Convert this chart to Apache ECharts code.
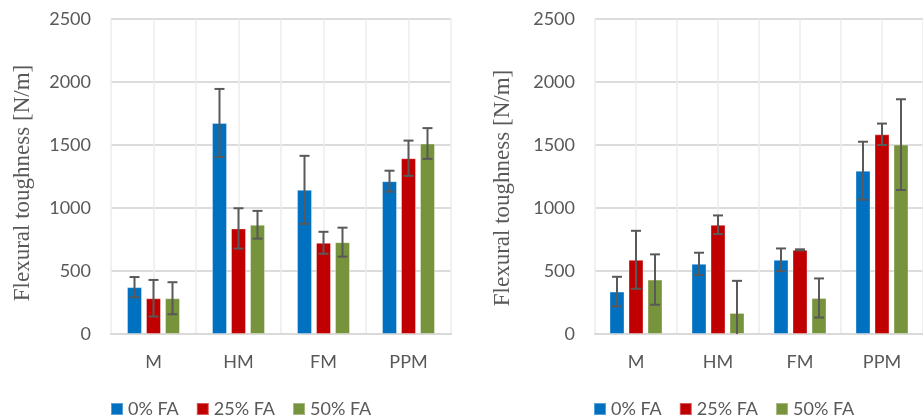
<!DOCTYPE html>
<html>
<head>
<meta charset="utf-8">
<script src="https://cdn.jsdelivr.net/npm/echarts@6/dist/echarts.min.js"></script>
<style>html,body{margin:0;padding:0;background:#fff}#c{width:923px;height:418px}</style>
</head>
<body>
<div id="c"></div>
<script>
const categories = ['M', 'HM', 'FM', 'PPM'];
const seriesNames = ['0% FA', '25% FA', '50% FA'];
const yTicks = [0, 500, 1000, 1500, 2000, 2500];
const axisTitle = 'Flexural toughness [N/m]';

// Left chart: means and error half-widths
const left0 = [372, 1675, 1144, 1213];
const left0Err = [80, 270, 270, 83];
const left25 = [284, 838, 724, 1395];
const left25Err = [145, 160, 87, 140];
const left50 = [284, 867, 729, 1512];
const left50Err = [127, 110, 115, 122];

// Right chart
const right0 = [337, 557, 589, 1296];
const right0Err = [117, 88, 90, 230];
const right25 = [589, 867, 668, 1585];
const right25Err = [230, 74, 4, 85];
const right50 = [432, 167, 286, 1503];
const right50Err = [200, 255, 155, 360];

const colors = ['#0070C0', '#C00000', '#77933C'];
const textColor = '#595959';
const BAR_W = 15;
const BAR_GAP = 4;
const FONT = 'Lato';

const chart = echarts.init(document.getElementById('c'));

const grids = [
  {left: 111, top: 19, width: 340, height: 315},
  {left: 595, top: 19, width: 340, height: 315}
];
const data = [
  [[left0, left0Err], [left25, left25Err], [left50, left50Err]],
  [[right0, right0Err], [right25, right25Err], [right50, right50Err]]
];

const xAxes = [], yAxes = [], series = [];
grids.forEach((g, gi) => {
  xAxes.push({
    type: 'category', gridIndex: gi, data: categories,
    axisLine: {show: true, lineStyle: {color: '#d9d9d9', width: 2}},
    axisTick: {show: false},
    axisLabel: {color: textColor, fontFamily: FONT, fontSize: 18, margin: 19},
    splitLine: {show: false}
  });
  // hidden helper axis for vertical gridlines at category boundaries and centres
  xAxes.push({
    type: 'value', gridIndex: gi, min: 0, max: 8, interval: 1, position: 'top',
    axisLine: {show: false}, axisTick: {show: false}, axisLabel: {show: false},
    splitLine: {show: true, lineStyle: {color: '#ececec', width: 1.5}}
  });
  yAxes.push({
    type: 'value', gridIndex: gi, min: yTicks[0], max: yTicks[yTicks.length - 1], interval: yTicks[1] - yTicks[0],
    axisLine: {show: false}, axisTick: {show: false},
    axisLabel: {color: textColor, fontFamily: FONT, fontSize: 18, margin: 20, formatter: v => String(v)},
    splitLine: {show: true, lineStyle: {color: '#dcdcdc', width: 2}}
  });
  data[gi].forEach((pair, si) => {
    const [vals, errs] = pair;
    series.push({
      type: 'bar', name: seriesNames[si], xAxisIndex: gi * 2, yAxisIndex: gi,
      data: vals, barWidth: BAR_W, barGap: (BAR_GAP / BAR_W * 100) + '%',
      itemStyle: {color: colors[si], borderColor: 'rgba(255,255,255,0.35)', borderWidth: 1},
      z: 2
    });
  });
  data[gi].forEach((pair, si) => {
    const [vals, errs] = pair;
    const offset = (si - 1) * (BAR_W + BAR_GAP);
    series.push({
      type: 'custom', name: seriesNames[si] + ' err', xAxisIndex: gi * 2, yAxisIndex: gi,
      data: vals.map((v, i) => [i, v - errs[i], v + errs[i]]),
      z: 5, silent: true,
      renderItem: function (params, api) {
        const xi = api.value(0);
        const lo = api.value(1), hi = api.value(2);
        const clampedLo = Math.max(lo, 0);
        const pHi = api.coord([xi, hi]);
        const pLo = api.coord([xi, clampedLo]);
        const x = pHi[0] + offset;
        const capHalf = 5;
        const style = {stroke: '#595959', lineWidth: 2};
        const children = [
          {type: 'line', shape: {x1: x, y1: pHi[1], x2: x, y2: pLo[1]}, style: style},
          {type: 'line', shape: {x1: x - capHalf, y1: pHi[1], x2: x + capHalf, y2: pHi[1]}, style: style}
        ];
        if (lo >= 0) {
          children.push({type: 'line', shape: {x1: x - capHalf, y1: pLo[1], x2: x + capHalf, y2: pLo[1]}, style: style});
        }
        return {type: 'group', children: children};
      }
    });
  });
});

const legendCommon = {top: 395, icon: 'rect', itemWidth: 12, itemHeight: 12, itemGap: 17,
  data: seriesNames, selectedMode: false,
  textStyle: {color: textColor, fontFamily: FONT, fontSize: 18}};

chart.setOption({
  animation: false,
  grid: grids,
  xAxis: xAxes,
  yAxis: yAxes,
  legend: [
    Object.assign({left: 105}, legendCommon),
    Object.assign({left: 588}, legendCommon)
  ],
  graphic: [
    {type: 'text', x: 23, y: 183, rotation: Math.PI / 2,
     style: {text: axisTitle, fill: textColor, font: '23px "Liberation Serif"', align: 'center', verticalAlign: 'middle'}},
    {type: 'text', x: 503, y: 188, rotation: Math.PI / 2,
     style: {text: axisTitle, fill: textColor, font: '23px "Liberation Serif"', align: 'center', verticalAlign: 'middle'}}
  ],
  series: series
});
</script>
</body>
</html>
